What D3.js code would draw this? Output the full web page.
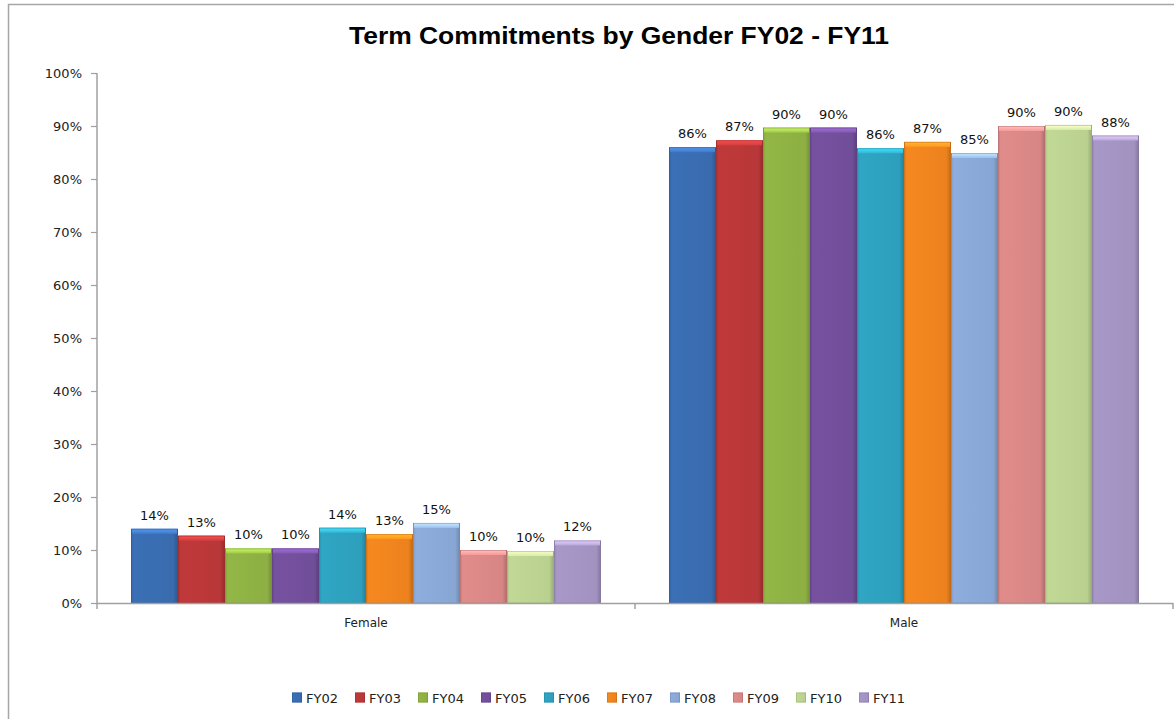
<!DOCTYPE html>
<html>
<head>
<meta charset="utf-8">
<script src="https://cdn.jsdelivr.net/npm/d3@7"></script>
<style>
  html, body { margin: 0; padding: 0; background: #fff; }
  svg { display: block; }
</style>
</head>
<body>
<svg id="chart" width="1174" height="719"></svg>
<script>
// Term commitments share by gender, fiscal years FY02 - FY11
const categories = ["Female", "Male"];
const years = ["FY02", "FY03", "FY04", "FY05", "FY06", "FY07", "FY08", "FY09", "FY10", "FY11"];
const female = [14.0, 12.7, 10.3, 10.3, 14.2, 13.0, 15.1, 10.0, 9.8, 11.8];
const male = [86.0, 87.3, 89.7, 89.7, 85.8, 87.0, 84.9, 90.0, 90.2, 88.2];
const yTicks = [0, 10, 20, 30, 40, 50, 60, 70, 80, 90, 100];
const colors = ["#3b70b6", "#c0393a", "#93b746", "#7651a0", "#2fa6c4", "#f6881f", "#8eaddd", "#e08c8b", "#c1d995", "#a898c8"];

const seriesByCategory = { Female: female, Male: male };

const svg = d3.select("#chart");
const W = 1174, H = 719;
const plot = { left: 97, right: 1173, top: 73, bottom: 603 };
const labelFont = "'DejaVu Sans', Verdana, sans-serif";

// chart frame
svg.append("path")
  .attr("d", `M8.5,${H} V4.5 H${W}`)
  .attr("fill", "none")
  .attr("stroke", "#a6a6a6")
  .attr("stroke-width", 1.5);

// title
svg.append("text")
  .attr("x", 619)
  .attr("y", 44)
  .attr("text-anchor", "middle")
  .attr("font-family", "'Liberation Sans', Arial, sans-serif")
  .attr("font-weight", "bold")
  .attr("font-size", 23)
  .attr("textLength", 540)
  .attr("lengthAdjust", "spacingAndGlyphs")
  .attr("fill", "#000")
  .text("Term Commitments by Gender FY02 - FY11");

const x0 = d3.scaleBand().domain(categories).range([plot.left, plot.right]);
const groupPad = 34;
const x1 = d3.scaleBand().domain(years).range([groupPad, x0.bandwidth() - groupPad]);
const y = d3.scaleLinear().domain([0, 100]).range([plot.bottom, plot.top]);

// gradients for the bevelled bars
const defs = svg.append("defs");
years.forEach((yr, i) => {
  const c = d3.color(colors[i]);
  const g = defs.append("linearGradient").attr("id", "grad" + i)
    .attr("x1", "0").attr("x2", "1").attr("y1", "0").attr("y2", "0");
  g.append("stop").attr("offset", "0%").attr("stop-color", c.darker(0.35));
  g.append("stop").attr("offset", "6%").attr("stop-color", c);
  g.append("stop").attr("offset", "90%").attr("stop-color", c.darker(0.12));
  g.append("stop").attr("offset", "100%").attr("stop-color", c.darker(0.7));
  const t = defs.append("linearGradient").attr("id", "cap" + i)
    .attr("x1", "0").attr("x2", "0").attr("y1", "0").attr("y2", "1");
  t.append("stop").attr("offset", "0%").attr("stop-color", c.brighter(0.9));
  t.append("stop").attr("offset", "100%").attr("stop-color", c.brighter(0.25));
});

// y axis
const yAxis = d3.axisLeft(y).tickValues(yTicks).tickSize(6).tickPadding(9)
  .tickFormat(d => d + "%");
const gy = svg.append("g").attr("transform", `translate(${plot.left},0)`).call(yAxis);
gy.select(".domain").attr("stroke", "#a0a0a0").attr("stroke-width", 1.5).attr("d", `M0,${plot.top}V${plot.bottom}`);
gy.selectAll(".tick line").attr("stroke", "#a0a0a0").attr("stroke-width", 1.2);
gy.selectAll(".tick text")
  .attr("font-family", labelFont)
  .attr("font-size", 13)
  .attr("fill", "#222");

// bars
const groups = svg.append("g").selectAll("g.cat")
  .data(categories)
  .join("g")
  .attr("class", "cat")
  .attr("transform", d => `translate(${x0(d)},0)`);

groups.each(function(cat) {
  const g = d3.select(this);
  const vals = seriesByCategory[cat];
  const data = years.map((yr, i) => ({ yr, i, v: vals[i] }));
  const bw = x1.bandwidth();

  const bar = g.selectAll("g.bar").data(data).join("g").attr("class", "bar");
  bar.append("rect")
    .attr("x", d => x1(d.yr))
    .attr("y", d => y(d.v))
    .attr("width", bw)
    .attr("height", d => y(0) - y(d.v))
    .attr("fill", d => `url(#grad${d.i})`);
  // lighter bevel along the top edge
  bar.append("rect")
    .attr("x", d => x1(d.yr) + 1)
    .attr("y", d => y(d.v))
    .attr("width", bw - 2)
    .attr("height", 5)
    .attr("fill", d => `url(#cap${d.i})`);
  // thin outline
  bar.append("rect")
    .attr("x", d => x1(d.yr) + 0.5)
    .attr("y", d => y(d.v) + 0.5)
    .attr("width", bw - 1)
    .attr("height", d => y(0) - y(d.v) - 0.5)
    .attr("fill", "none")
    .attr("stroke", d => d3.color(colors[d.i]).darker(0.6))
    .attr("stroke-opacity", 0.55)
    .attr("stroke-width", 1);

  // value labels
  g.selectAll("text.val").data(data).join("text")
    .attr("class", "val")
    .attr("x", d => x1(d.yr) + bw / 2)
    .attr("y", d => y(d.v) - 9)
    .attr("text-anchor", "middle")
    .attr("font-family", labelFont)
    .attr("font-size", 13)
    .attr("fill", "#111")
    .text(d => Math.round(d.v) + "%");
});

// x axis
const xAxis = d3.axisBottom(x0).tickSize(0).tickPadding(15);
const gx = svg.append("g").attr("transform", `translate(0,${plot.bottom})`).call(xAxis);
gx.select(".domain").attr("stroke", "#a0a0a0").attr("stroke-width", 1.5).attr("d", `M${plot.left},0.5H${plot.right}`);
gx.selectAll(".tick text")
  .attr("font-family", labelFont)
  .attr("font-size", 12)
  .attr("fill", "#222");
// category boundary ticks
const boundaries = [plot.left, x0("Male"), plot.right];
gx.selectAll("line.bound").data(boundaries).join("line")
  .attr("class", "bound")
  .attr("x1", d => d).attr("x2", d => d)
  .attr("y1", 0).attr("y2", 6)
  .attr("stroke", "#a0a0a0").attr("stroke-width", 1.5);

// legend
const legend = svg.append("g").attr("transform", "translate(292,698)");
const item = legend.selectAll("g").data(years).join("g")
  .attr("transform", (d, i) => `translate(${i * 63},0)`);
item.append("rect")
  .attr("x", 0).attr("y", -5.5).attr("width", 10).attr("height", 10)
  .attr("fill", (d, i) => `url(#grad${i})`);
item.append("rect")
  .attr("x", 0.5).attr("y", -5).attr("width", 9).attr("height", 9)
  .attr("fill", "none")
  .attr("stroke", (d, i) => d3.color(colors[i]).darker(0.5))
  .attr("stroke-opacity", 0.6);
item.append("text")
  .attr("x", 14).attr("y", 5)
  .attr("font-family", labelFont)
  .attr("font-size", 13)
  .attr("fill", "#222")
  .text(d => d);
</script>
</body>
</html>
